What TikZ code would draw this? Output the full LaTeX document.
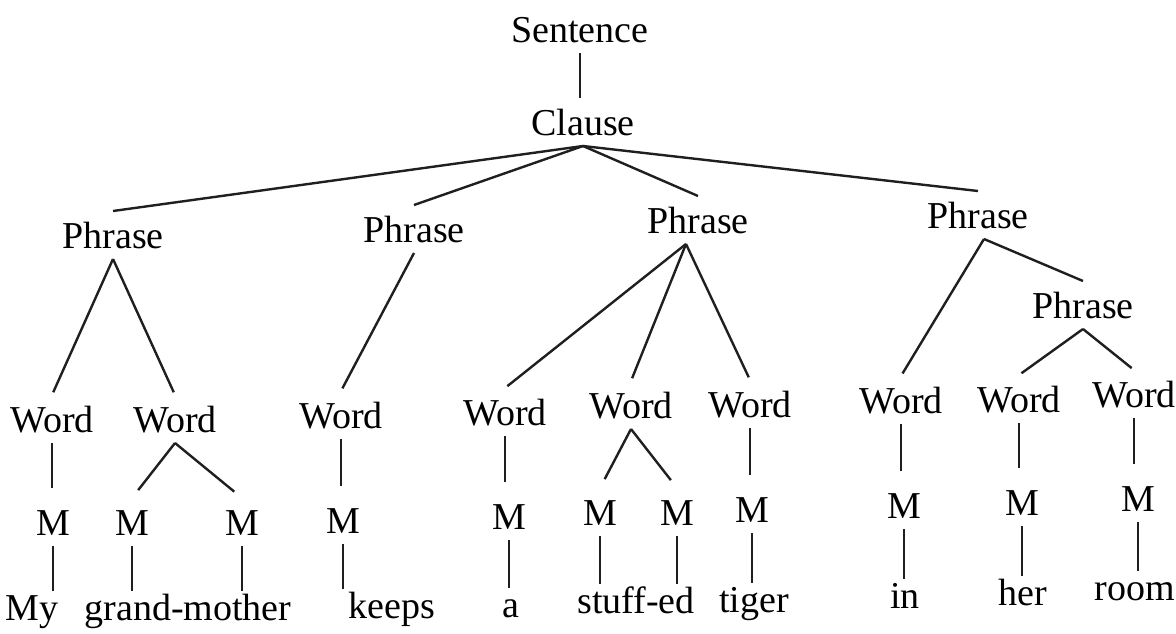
\documentclass[tikz,border=0pt]{standalone}
\usepackage{fontspec}
\setmainfont{Liberation Serif}
\begin{document}
\begin{tikzpicture}[x=1pt,y=-1pt,
  lab/.style={inner sep=0pt, outer ysep=11pt, text height=26pt, text depth=0pt, anchor=base, font=\fontsize{38}{42}\selectfont},
  leaf/.style={lab, outer ysep=3pt},
  edge/.style={line width=2.4pt, draw=black!88},
  toword/.style={edge, shorten >=3pt},
  tom/.style={edge, shorten >=10pt}]
\useasboundingbox (0,0) rectangle (1176,633);
% top
\node[lab] (s) at (580,42) {Sentence};
\node[lab] (c) at (583,135) {Clause};
% phrases
\node[lab] (p1) at (113,248) {Phrase};
\node[lab] (p2) at (414,242) {Phrase};
\node[lab] (p3) at (698,233) {Phrase};
\node[lab] (p4) at (978,228) {Phrase};
\node[lab] (p5) at (1083,318) {Phrase};
% words
\node[lab] (w1) at (52,432) {Word};
\node[lab] (w2) at (175,432) {Word};
\node[lab] (w3) at (341,428) {Word};
\node[lab] (w4) at (505,425) {Word};
\node[lab] (w5) at (631,418) {Word};
\node[lab] (w6) at (750,417) {Word};
\node[lab] (w7) at (901,413) {Word};
\node[lab] (w8) at (1019,412) {Word};
\node[lab] (w9) at (1134,407) {Word};
% morphemes
\node[lab] (m1) at (53,535) {M};
\node[lab] (m2) at (132,535) {M};
\node[lab] (m3) at (242,535) {M};
\node[lab] (m4) at (343,533) {M};
\node[lab] (m5) at (509,529) {M};
\node[lab] (m6) at (600,525) {M};
\node[lab] (m7) at (677,525) {M};
\node[lab] (m8) at (752,522) {M};
\node[lab] (m9) at (904,518) {M};
\node[lab] (m10) at (1022,515) {M};
\node[lab] (m11) at (1138,511) {M};
% leaves
\node[leaf] (l1) at (32,620) {My};
\node[leaf] (l2) at (188,620) {grand-mother};
\node[leaf] (l3) at (392,618) {keeps};
\node[leaf] (l4) at (511,617) {a};
\node[leaf] (l5) at (636,613) {stuff-ed};
\node[leaf] (l6) at (754,612) {tiger};
\node[leaf] (l7) at (905,608) {in};
\node[leaf] (l8) at (1023,605) {her};
\node[leaf] (l9) at (1135,600) {room};
% connectors
\draw[edge] (s.south) -- (s.south |- c.north);
\foreach \p in {p1,p2,p3,p4} \draw[edge] (c.south) -- (\p.north);
\draw[toword] (p1.south) -- (w1.north);
\draw[toword] (p1.south) -- (w2.north);
\draw[toword] (p2.south) -- (w3.north);
\draw[toword] ([xshift=-12pt]p3.south) -- (w4.north);
\draw[toword] ([xshift=-12pt]p3.south) -- (w5.north);
\draw[toword] ([xshift=-12pt]p3.south) -- (w6.north);
\draw[toword] ([xshift=6pt]p4.south) -- (w7.north);
\draw[edge] ([xshift=6pt]p4.south) -- (p5.north);
\draw[toword] (p5.south) -- (w8.north);
\draw[toword] (p5.south) -- (w9.north);
\draw[tom] (w1.south) -- (w1.south |- m1.north);
\draw[tom] (w2.south) -- (m2.north);
\draw[tom] (w2.south) -- (m3.north);
\draw[tom] (w3.south) -- (w3.south |- m4.north);
\draw[tom] (w4.south) -- (w4.south |- m5.north);
\draw[tom] (w5.south) -- (m6.north);
\draw[tom] (w5.south) -- (m7.north);
\draw[tom] (w6.south) -- (w6.south |- m8.north);
\draw[tom] (w7.south) -- (w7.south |- m9.north);
\draw[tom] (w8.south) -- (w8.south |- m10.north);
\draw[tom] (w9.south) -- (w9.south |- m11.north);
\draw[edge] (m1.south) -- (m1.south |- l1.north);
\draw[edge] (m2.south) -- (m2.south |- l2.north);
\draw[edge] (m3.south) -- (m3.south |- l2.north);
\draw[edge] (m4.south) -- (m4.south |- l3.north);
\draw[edge] (m5.south) -- (m5.south |- l4.north);
\draw[edge] (m6.south) -- (m6.south |- l5.north);
\draw[edge] (m7.south) -- (m7.south |- l5.north);
\draw[edge] (m8.south) -- (m8.south |- l6.north);
\draw[edge] (m9.south) -- (m9.south |- l7.north);
\draw[edge] (m10.south) -- (m10.south |- l8.north);
\draw[edge] (m11.south) -- (m11.south |- l9.north);
\end{tikzpicture}
\end{document}
